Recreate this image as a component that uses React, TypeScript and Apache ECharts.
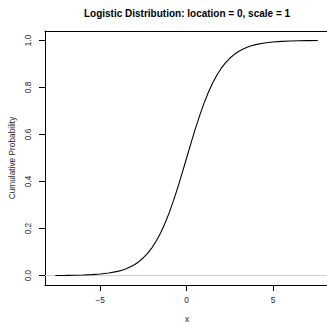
import React, { useEffect, useRef } from "react";
import * as echarts from "echarts";

const xValues = [
  -7.6, -7, -6.5, -6, -5.5, -5, -4.5, -4, -3.75, -3.5, -3.25, -3, -2.75, -2.5, -2.25, -2, -1.75,
  -1.5, -1.25, -1, -0.75, -0.5, -0.25, 0, 0.25, 0.5, 0.75, 1, 1.25, 1.5, 1.75, 2, 2.25, 2.5, 2.75,
  3, 3.25, 3.5, 3.75, 4, 4.5, 5, 5.5, 6, 6.5, 7, 7.6,
];
const cdfValues = [
  0.0005, 0.0009, 0.0015, 0.0025, 0.0041, 0.0067, 0.011, 0.018, 0.023, 0.0293, 0.0373, 0.0474,
  0.0601, 0.0759, 0.0954, 0.1192, 0.148, 0.1824, 0.2227, 0.2689, 0.3208, 0.3775, 0.4378, 0.5,
  0.5622, 0.6225, 0.6792, 0.7311, 0.7773, 0.8176, 0.852, 0.8808, 0.9046, 0.9241, 0.9399, 0.9526,
  0.9627, 0.9707, 0.977, 0.982, 0.989, 0.9933, 0.9959, 0.9975, 0.9985, 0.9991, 0.9995,
];
const referenceLevel = 0;
const xTicks = [-5, 0, 5];
const yTicks = [0, 0.2, 0.4, 0.6, 0.8, 1.0];
const titleText = "Logistic Distribution: location = 0, scale = 1";
const xLabel = "x";
const yLabel = "Cumulative Probability";

const FONT = "Liberation Sans, Arial, Helvetica, sans-serif";

export default function App() {
  const ref = useRef<HTMLDivElement>(null);
  useEffect(() => {
    if (!ref.current) return;
    const chart = echarts.init(ref.current, undefined, { renderer: "svg" });
    const xMin = -8.2;
    const xMax = 8.13;
    chart.setOption({
      animation: false,
      backgroundColor: "#ffffff",
      grid: { left: 45, top: 31, right: 0, bottom: 38 },
      xAxis: [
        {
          type: "value",
          min: xMin,
          max: xMax,
          position: "bottom",
          axisLine: { show: true, onZero: false, lineStyle: { color: "#000", width: 1 } },
          axisTick: { show: true, length: 6, customValues: xTicks, lineStyle: { color: "#000" } },
          axisLabel: {
            customValues: xTicks,
            formatter: (v: number) => (v < 0 ? "\u2212" + Math.abs(v) : String(v)),
            fontSize: 8.3,
            color: "#222",
            margin: 11,
            fontFamily: FONT,
          },
          splitLine: { show: false },
        },
        {
          type: "value",
          min: xMin,
          max: xMax,
          position: "top",
          axisLine: { show: true, onZero: false, lineStyle: { color: "#000", width: 1 } },
          axisTick: { show: false },
          axisLabel: { show: false },
          splitLine: { show: false },
        },
      ],
      yAxis: {
        type: "value",
        min: -0.04,
        max: 1.04,
        axisLine: { show: true, onZero: false, lineStyle: { color: "#000", width: 1 } },
        axisTick: { show: true, length: 6, customValues: yTicks, lineStyle: { color: "#000" } },
        axisLabel: {
          customValues: yTicks,
          rotate: 90,
          formatter: (v: number) => v.toFixed(1),
          fontSize: 8.3,
          color: "#222",
          margin: 13.5,
          fontFamily: FONT,
        },
        splitLine: { show: false },
      },
      series: [
        {
          type: "line",
          z: 1,
          data: [
            [xMin, referenceLevel],
            [xMax, referenceLevel],
          ],
          showSymbol: false,
          silent: true,
          lineStyle: { color: "#cccccc", width: 1 },
        },
        {
          type: "line",
          z: 2,
          data: xValues.map((x, i) => [x, cdfValues[i]]),
          showSymbol: false,
          smooth: false,
          lineStyle: { color: "#000", width: 1.1 },
        },
      ],
      graphic: [
        {
          type: "text",
          x: 187,
          y: 13,
          style: {
            text: titleText,
            font: `bold 10px ${FONT}`,
            fill: "#000",
            textAlign: "center",
            textVerticalAlign: "middle",
          },
        },
        {
          type: "text",
          x: 187,
          y: 319,
          style: {
            text: xLabel,
            font: `8.3px ${FONT}`,
            fill: "#222",
            textAlign: "center",
            textVerticalAlign: "middle",
          },
        },
        {
          type: "text",
          x: 12,
          y: 158,
          rotation: Math.PI / 2,
          style: {
            text: yLabel,
            font: `8.3px ${FONT}`,
            fill: "#222",
            textAlign: "center",
            textVerticalAlign: "middle",
          },
        },
      ],
    });
    return () => chart.dispose();
  }, []);
  return (
    <div
      ref={ref}
      style={{ position: "fixed", left: 0, top: 0, width: 327, height: 323, background: "#fff" }}
    />
  );
}
